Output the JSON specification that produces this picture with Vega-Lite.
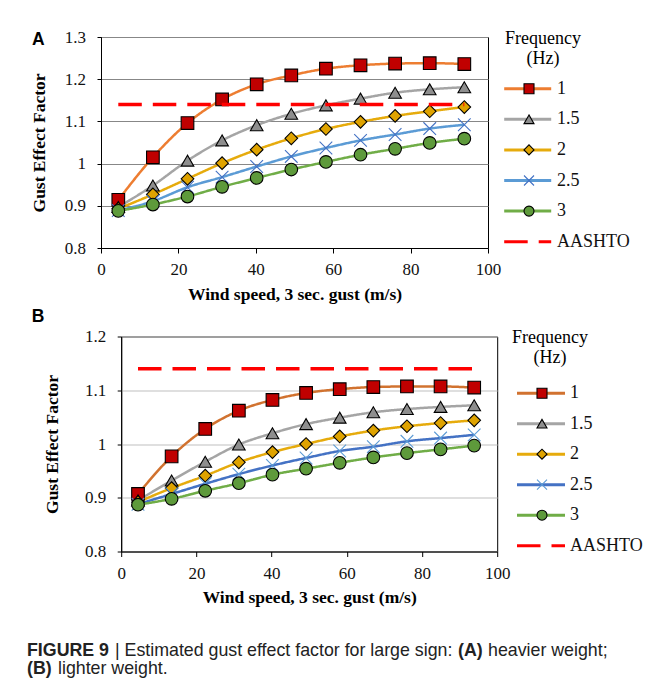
{
  "$schema": "https://vega.github.io/schema/vega-lite/v6.json",
  "background": "white",
  "padding": {"left": 27, "top": 27, "right": 4, "bottom": 4},
  "autosize": {"type": "pad"},
  "config": {
    "font": "Liberation Serif",
    "view": {"stroke": null},
    "axis": {
      "labelFont": "Liberation Serif", "labelFontSize": 17, "labelColor": "#111111",
      "titleFont": "Liberation Serif", "titleFontSize": 17.5, "titleFontWeight": "bold", "titleColor": "#000000",
      "domainColor": "#000000", "tickColor": "#000000", "labelFlush": false, "labelOverlap": false
    },
    "axisX": {"grid": false, "tickSize": 5, "labelPadding": 8.7, "titlePadding": 7.6},
    "axisY": {"tickSize": 4, "labelPadding": 11.5, "gridWidth": 1},
    "legend": {
      "orient": "none", "padding": 0, "direction": "vertical", "clipHeight": 20,
      "labelFont": "Liberation Serif", "labelFontSize": 18, "labelColor": "#111111",
      "titleFont": "Liberation Serif", "titleFontSize": 18, "titleFontWeight": "normal",
      "titleColor": "#000000", "titleLineHeight": 20
    }
  },
  "datasets": {
    "gust": [
      {"panel": "A", "series": "1", "speed": 4.47, "gef": 0.914},
      {"panel": "A", "series": "1", "speed": 13.41, "gef": 1.015},
      {"panel": "A", "series": "1", "speed": 22.35, "gef": 1.096},
      {"panel": "A", "series": "1", "speed": 31.29, "gef": 1.152},
      {"panel": "A", "series": "1", "speed": 40.23, "gef": 1.188},
      {"panel": "A", "series": "1", "speed": 49.17, "gef": 1.209},
      {"panel": "A", "series": "1", "speed": 58.12, "gef": 1.225},
      {"panel": "A", "series": "1", "speed": 67.06, "gef": 1.233},
      {"panel": "A", "series": "1", "speed": 76.0, "gef": 1.237},
      {"panel": "A", "series": "1", "speed": 84.94, "gef": 1.238},
      {"panel": "A", "series": "1", "speed": 93.88, "gef": 1.236},
      {"panel": "A", "series": "1.5", "speed": 4.47, "gef": 0.897},
      {"panel": "A", "series": "1.5", "speed": 13.41, "gef": 0.948},
      {"panel": "A", "series": "1.5", "speed": 22.35, "gef": 1.007},
      {"panel": "A", "series": "1.5", "speed": 31.29, "gef": 1.055},
      {"panel": "A", "series": "1.5", "speed": 40.23, "gef": 1.091},
      {"panel": "A", "series": "1.5", "speed": 49.17, "gef": 1.118},
      {"panel": "A", "series": "1.5", "speed": 58.12, "gef": 1.138},
      {"panel": "A", "series": "1.5", "speed": 67.06, "gef": 1.154},
      {"panel": "A", "series": "1.5", "speed": 76.0, "gef": 1.168},
      {"panel": "A", "series": "1.5", "speed": 84.94, "gef": 1.176},
      {"panel": "A", "series": "1.5", "speed": 93.88, "gef": 1.181},
      {"panel": "A", "series": "2", "speed": 4.47, "gef": 0.893},
      {"panel": "A", "series": "2", "speed": 13.41, "gef": 0.927},
      {"panel": "A", "series": "2", "speed": 22.35, "gef": 0.964},
      {"panel": "A", "series": "2", "speed": 31.29, "gef": 1.001},
      {"panel": "A", "series": "2", "speed": 40.23, "gef": 1.033},
      {"panel": "A", "series": "2", "speed": 49.17, "gef": 1.06},
      {"panel": "A", "series": "2", "speed": 58.12, "gef": 1.082},
      {"panel": "A", "series": "2", "speed": 67.06, "gef": 1.099},
      {"panel": "A", "series": "2", "speed": 76.0, "gef": 1.113},
      {"panel": "A", "series": "2", "speed": 84.94, "gef": 1.124},
      {"panel": "A", "series": "2", "speed": 93.88, "gef": 1.134},
      {"panel": "A", "series": "2.5", "speed": 4.47, "gef": 0.889},
      {"panel": "A", "series": "2.5", "speed": 13.41, "gef": 0.911},
      {"panel": "A", "series": "2.5", "speed": 22.35, "gef": 0.944},
      {"panel": "A", "series": "2.5", "speed": 31.29, "gef": 0.968},
      {"panel": "A", "series": "2.5", "speed": 40.23, "gef": 0.993},
      {"panel": "A", "series": "2.5", "speed": 49.17, "gef": 1.017},
      {"panel": "A", "series": "2.5", "speed": 58.12, "gef": 1.037},
      {"panel": "A", "series": "2.5", "speed": 67.06, "gef": 1.055},
      {"panel": "A", "series": "2.5", "speed": 76.0, "gef": 1.069},
      {"panel": "A", "series": "2.5", "speed": 84.94, "gef": 1.083},
      {"panel": "A", "series": "2.5", "speed": 93.88, "gef": 1.092},
      {"panel": "A", "series": "3", "speed": 4.47, "gef": 0.888},
      {"panel": "A", "series": "3", "speed": 13.41, "gef": 0.903},
      {"panel": "A", "series": "3", "speed": 22.35, "gef": 0.922},
      {"panel": "A", "series": "3", "speed": 31.29, "gef": 0.945},
      {"panel": "A", "series": "3", "speed": 40.23, "gef": 0.966},
      {"panel": "A", "series": "3", "speed": 49.17, "gef": 0.986},
      {"panel": "A", "series": "3", "speed": 58.12, "gef": 1.004},
      {"panel": "A", "series": "3", "speed": 67.06, "gef": 1.021},
      {"panel": "A", "series": "3", "speed": 76.0, "gef": 1.035},
      {"panel": "A", "series": "3", "speed": 84.94, "gef": 1.049},
      {"panel": "A", "series": "3", "speed": 93.88, "gef": 1.059},
      {"panel": "A", "series": "AASHTO", "speed": 4.47, "gef": 1.14},
      {"panel": "A", "series": "AASHTO", "speed": 93.88, "gef": 1.14},
      {"panel": "B", "series": "1", "speed": 4.47, "gef": 0.907},
      {"panel": "B", "series": "1", "speed": 13.41, "gef": 0.977},
      {"panel": "B", "series": "1", "speed": 22.35, "gef": 1.028},
      {"panel": "B", "series": "1", "speed": 31.29, "gef": 1.062},
      {"panel": "B", "series": "1", "speed": 40.23, "gef": 1.082},
      {"panel": "B", "series": "1", "speed": 49.17, "gef": 1.095},
      {"panel": "B", "series": "1", "speed": 58.12, "gef": 1.102},
      {"panel": "B", "series": "1", "speed": 67.06, "gef": 1.106},
      {"panel": "B", "series": "1", "speed": 76.0, "gef": 1.107},
      {"panel": "B", "series": "1", "speed": 84.94, "gef": 1.107},
      {"panel": "B", "series": "1", "speed": 93.88, "gef": 1.105},
      {"panel": "B", "series": "1.5", "speed": 4.47, "gef": 0.895},
      {"panel": "B", "series": "1.5", "speed": 13.41, "gef": 0.932},
      {"panel": "B", "series": "1.5", "speed": 22.35, "gef": 0.967},
      {"panel": "B", "series": "1.5", "speed": 31.29, "gef": 0.999},
      {"panel": "B", "series": "1.5", "speed": 40.23, "gef": 1.02},
      {"panel": "B", "series": "1.5", "speed": 49.17, "gef": 1.037},
      {"panel": "B", "series": "1.5", "speed": 58.12, "gef": 1.049},
      {"panel": "B", "series": "1.5", "speed": 67.06, "gef": 1.059},
      {"panel": "B", "series": "1.5", "speed": 76.0, "gef": 1.065},
      {"panel": "B", "series": "1.5", "speed": 84.94, "gef": 1.069},
      {"panel": "B", "series": "1.5", "speed": 93.88, "gef": 1.072},
      {"panel": "B", "series": "2", "speed": 4.47, "gef": 0.892},
      {"panel": "B", "series": "2", "speed": 13.41, "gef": 0.918},
      {"panel": "B", "series": "2", "speed": 22.35, "gef": 0.941},
      {"panel": "B", "series": "2", "speed": 31.29, "gef": 0.966},
      {"panel": "B", "series": "2", "speed": 40.23, "gef": 0.985},
      {"panel": "B", "series": "2", "speed": 49.17, "gef": 1.0},
      {"panel": "B", "series": "2", "speed": 58.12, "gef": 1.014},
      {"panel": "B", "series": "2", "speed": 67.06, "gef": 1.025},
      {"panel": "B", "series": "2", "speed": 76.0, "gef": 1.033},
      {"panel": "B", "series": "2", "speed": 84.94, "gef": 1.039},
      {"panel": "B", "series": "2", "speed": 93.88, "gef": 1.044},
      {"panel": "B", "series": "2.5", "speed": 4.47, "gef": 0.888},
      {"panel": "B", "series": "2.5", "speed": 13.41, "gef": 0.907},
      {"panel": "B", "series": "2.5", "speed": 22.35, "gef": 0.926},
      {"panel": "B", "series": "2.5", "speed": 31.29, "gef": 0.944},
      {"panel": "B", "series": "2.5", "speed": 40.23, "gef": 0.96},
      {"panel": "B", "series": "2.5", "speed": 49.17, "gef": 0.974},
      {"panel": "B", "series": "2.5", "speed": 58.12, "gef": 0.987},
      {"panel": "B", "series": "2.5", "speed": 67.06, "gef": 0.995},
      {"panel": "B", "series": "2.5", "speed": 76.0, "gef": 1.005},
      {"panel": "B", "series": "2.5", "speed": 84.94, "gef": 1.011},
      {"panel": "B", "series": "2.5", "speed": 93.88, "gef": 1.017},
      {"panel": "B", "series": "3", "speed": 4.47, "gef": 0.887},
      {"panel": "B", "series": "3", "speed": 13.41, "gef": 0.898},
      {"panel": "B", "series": "3", "speed": 22.35, "gef": 0.913},
      {"panel": "B", "series": "3", "speed": 31.29, "gef": 0.927},
      {"panel": "B", "series": "3", "speed": 40.23, "gef": 0.943},
      {"panel": "B", "series": "3", "speed": 49.17, "gef": 0.954},
      {"panel": "B", "series": "3", "speed": 58.12, "gef": 0.965},
      {"panel": "B", "series": "3", "speed": 67.06, "gef": 0.975},
      {"panel": "B", "series": "3", "speed": 76.0, "gef": 0.983},
      {"panel": "B", "series": "3", "speed": 84.94, "gef": 0.99},
      {"panel": "B", "series": "3", "speed": 93.88, "gef": 0.997},
      {"panel": "B", "series": "AASHTO", "speed": 4.47, "gef": 1.14},
      {"panel": "B", "series": "AASHTO", "speed": 93.88, "gef": 1.14}
    ]
  },
  "concat": [
    {
      "concat": [
        {
          "width": 387,
          "height": 211,
          "view": {"stroke": "#000000", "strokeWidth": 1},
          "title": {"text": "A", "anchor": "start", "frame": "group", "dx": -69, "offset": -34.9, "baseline": "alphabetic", "font": "Liberation Sans", "fontSize": 17.5, "fontWeight": "bold", "color": "#000000"},
          "data": {"name": "gust"},
          "transform": [{"filter": "datum.panel === 'A'"}],
          "encoding": {
            "x": {"field": "speed", "type": "quantitative", "scale": {"domain": [0, 100], "nice": false},
                  "axis": {"values": [0, 20, 40, 60, 80, 100], "labelFont": "Liberation Serif", "title": "Wind speed, 3 sec. gust (m/s)"}},
            "y": {"field": "gef", "type": "quantitative", "scale": {"domain": [0.8, 1.3], "nice": false, "zero": false},
                  "axis": {"values": [0.8, 0.9, 1, 1.1, 1.2, 1.3], "format": "~g", "labelFont": "Liberation Serif", "title": "Gust Effect Factor", "titlePadding": 16, "grid": true, "gridColor": "#878787"}}
          },
          "layer": [
            {
              "transform": [{"filter": "datum.series !== 'AASHTO'"}],
              "mark": {"type": "line", "interpolate": "monotone", "strokeWidth": 2.5},
              "encoding": {
                "color": {"field": "series", "type": "nominal",
                  "scale": {"domain": ["1", "1.5", "2", "2.5", "3", "AASHTO"], "range": ["#ED7D31", "#A5A5A5", "#E6AB0C", "#5B9BD5", "#70AD47", "#FF0000"]},
                  "legend": {"legendX": 401.7, "legendY": -7.4, "title": ["Frequency", "(Hz)"], "titleAnchor": "start", "titleAlign": "center", "titlePadding": 11.1, "symbolType": "stroke", "symbolSize": 2209, "symbolStrokeWidth": 3, "rowPadding": 10.6, "labelOffset": 4.3, "encode": {"title": {"update": {"dx": {"value": 40.3}}}}}},
                "strokeDash": {"field": "series", "type": "nominal",
                  "scale": {"domain": ["1", "1.5", "2", "2.5", "3", "AASHTO"], "range": [[1, 0], [1, 0], [1, 0], [1, 0], [1, 0], [23.5, 11]]},
                  "legend": {"legendX": 401.7, "legendY": -7.4, "title": ["Frequency", "(Hz)"], "titleAnchor": "start", "titleAlign": "center", "titlePadding": 11.1, "symbolType": "stroke", "symbolSize": 2209, "symbolStrokeWidth": 3, "rowPadding": 10.6, "labelOffset": 4.3, "encode": {"title": {"update": {"dx": {"value": 40.3}}}}}}
              }
            },
            {
              "transform": [{"filter": "datum.series !== 'AASHTO'"}],
              "mark": {"type": "point", "filled": true, "opacity": 1, "size": 160, "strokeWidth": 1.1},
              "encoding": {
                "shape": {"field": "series", "type": "nominal",
                  "scale": {"domain": ["1", "1.5", "2", "2.5", "3"], "range": ["square", "triangle-up", "diamond", "M-1,-1L1,1M-1,1L1,-1", "circle"]},
                  "legend": {"legendX": 419, "legendY": 41.7, "title": null, "labelExpr": "''", "rowPadding": 10.6, "symbolStrokeWidth": 1.1, "symbolOpacity": 1}},
                "fill": {"field": "series", "type": "nominal",
                  "scale": {"domain": ["1", "1.5", "2", "2.5", "3"], "range": ["#C00000", "#8E8E8E", "#DFA300", "transparent", "#5E9A3B"]},
                  "legend": {"legendX": 419, "legendY": 41.7, "title": null, "labelExpr": "''", "rowPadding": 10.6, "symbolStrokeWidth": 1.1, "symbolOpacity": 1}},
                "stroke": {"field": "series", "type": "nominal",
                  "scale": {"domain": ["1", "1.5", "2", "2.5", "3"], "range": ["#000000", "#000000", "#000000", "#4472C4", "#000000"]},
                  "legend": {"legendX": 419, "legendY": 41.7, "title": null, "labelExpr": "''", "rowPadding": 10.6, "symbolStrokeWidth": 1.1, "symbolOpacity": 1}}
              }
            },
            {
              "transform": [{"filter": "datum.series === 'AASHTO'"}],
              "mark": {"type": "line", "strokeWidth": 3.5},
              "encoding": {
                "color": {"field": "series", "type": "nominal",
                  "scale": {"domain": ["1", "1.5", "2", "2.5", "3", "AASHTO"], "range": ["#ED7D31", "#A5A5A5", "#E6AB0C", "#5B9BD5", "#70AD47", "#FF0000"]}},
                "strokeDash": {"field": "series", "type": "nominal",
                  "scale": {"domain": ["1", "1.5", "2", "2.5", "3", "AASHTO"], "range": [[1, 0], [1, 0], [1, 0], [1, 0], [1, 0], [23.5, 11]]}}
              }
            }
          ]
        },
        {
          "concat": [
            {"width": 1, "height": 1, "data": {"values": []}, "mark": "text", "encoding": {}},
            {
              "width": 376,
              "height": 215,
              "view": {"stroke": "#000000", "strokeWidth": 1},
              "title": {"text": "B", "anchor": "start", "frame": "group", "dx": -89.5, "offset": -11.9, "baseline": "alphabetic", "font": "Liberation Sans", "fontSize": 17.5, "fontWeight": "bold", "color": "#000000"},
              "data": {"name": "gust"},
              "transform": [{"filter": "datum.panel === 'B'"}],
              "encoding": {
                "x": {"field": "speed", "type": "quantitative", "scale": {"domain": [0, 100], "nice": false},
                      "axis": {"values": [0, 20, 40, 60, 80, 100], "labelFont": "Liberation Serif", "title": "Wind speed, 3 sec. gust (m/s)"}},
                "y": {"field": "gef", "type": "quantitative", "scale": {"domain": [0.8, 1.2], "nice": false, "zero": false},
                      "axis": {"values": [0.8, 0.9, 1, 1.1, 1.2], "format": "~g", "labelFont": "Liberation Serif", "title": "Gust Effect Factor", "titlePadding": 23, "grid": true, "gridColor": "#BFBFBF"}}
              },
              "layer": [
                {
                  "transform": [{"filter": "datum.series !== 'AASHTO'"}],
                  "mark": {"type": "line", "interpolate": "monotone", "strokeWidth": 2.5},
                  "encoding": {
                    "color": {"field": "series", "type": "nominal",
                      "scale": {"domain": ["1", "1.5", "2", "2.5", "3", "AASHTO"], "range": ["#D1722F", "#A5A5A5", "#E6AB0C", "#4472C4", "#70AD47", "#FF0000"]},
                      "legend": {"legendX": 391.3, "legendY": -7.1, "title": ["Frequency", "(Hz)"], "titleAnchor": "start", "titleAlign": "center", "titlePadding": 15.8, "symbolType": "stroke", "symbolSize": 2304, "symbolStrokeWidth": 3, "rowPadding": 10.5, "labelOffset": 3.5, "encode": {"title": {"update": {"dx": {"value": 34.5}}}}}},
                    "strokeDash": {"field": "series", "type": "nominal",
                      "scale": {"domain": ["1", "1.5", "2", "2.5", "3", "AASHTO"], "range": [[1, 0], [1, 0], [1, 0], [1, 0], [1, 0], [23.5, 11]]},
                      "legend": {"legendX": 391.3, "legendY": -7.1, "title": ["Frequency", "(Hz)"], "titleAnchor": "start", "titleAlign": "center", "titlePadding": 15.8, "symbolType": "stroke", "symbolSize": 2304, "symbolStrokeWidth": 3, "rowPadding": 10.5, "labelOffset": 3.5, "encode": {"title": {"update": {"dx": {"value": 34.5}}}}}}
                  }
                },
                {
                  "transform": [{"filter": "datum.series !== 'AASHTO'"}],
                  "mark": {"type": "point", "filled": true, "opacity": 1, "size": 160, "strokeWidth": 1.1},
                  "encoding": {
                    "shape": {"field": "series", "type": "nominal",
                      "scale": {"domain": ["1", "1.5", "2", "2.5", "3"], "range": ["square", "triangle-up", "diamond", "M-1,-1L1,1M-1,1L1,-1", "circle"]},
                      "legend": {"legendX": 411.8, "legendY": 46.7, "title": null, "labelExpr": "''", "rowPadding": 10.5, "symbolStrokeWidth": 1.1, "symbolOpacity": 1}},
                    "fill": {"field": "series", "type": "nominal",
                      "scale": {"domain": ["1", "1.5", "2", "2.5", "3"], "range": ["#C00000", "#8E8E8E", "#DFA300", "transparent", "#5E9A3B"]},
                      "legend": {"legendX": 411.8, "legendY": 46.7, "title": null, "labelExpr": "''", "rowPadding": 10.5, "symbolStrokeWidth": 1.1, "symbolOpacity": 1}},
                    "stroke": {"field": "series", "type": "nominal",
                      "scale": {"domain": ["1", "1.5", "2", "2.5", "3"], "range": ["#000000", "#000000", "#000000", "#5B9BD5", "#000000"]},
                      "legend": {"legendX": 411.8, "legendY": 46.7, "title": null, "labelExpr": "''", "rowPadding": 10.5, "symbolStrokeWidth": 1.1, "symbolOpacity": 1}}
                  }
                },
                {
                  "transform": [{"filter": "datum.series === 'AASHTO'"}],
                  "mark": {"type": "line", "strokeWidth": 3.5},
                  "encoding": {
                    "color": {"field": "series", "type": "nominal",
                      "scale": {"domain": ["1", "1.5", "2", "2.5", "3", "AASHTO"], "range": ["#D1722F", "#A5A5A5", "#E6AB0C", "#4472C4", "#70AD47", "#FF0000"]}},
                    "strokeDash": {"field": "series", "type": "nominal",
                      "scale": {"domain": ["1", "1.5", "2", "2.5", "3", "AASHTO"], "range": [[1, 0], [1, 0], [1, 0], [1, 0], [1, 0], [23.5, 11]]}}
                  }
                }
              ]
            }
          ],
          "align": "none",
          "spacing": -70.8,
          "resolve": {
            "scale": {"color": "independent", "strokeDash": "independent", "shape": "independent", "fill": "independent", "stroke": "independent"},
            "legend": {"color": "independent", "strokeDash": "independent", "shape": "independent", "fill": "independent", "stroke": "independent"}
          }
        }
      ],
      "columns": 1,
      "align": "none",
      "spacing": 2.5,
      "resolve": {
        "scale": {"color": "independent", "strokeDash": "independent", "shape": "independent", "fill": "independent", "stroke": "independent"},
        "legend": {"color": "independent", "strokeDash": "independent", "shape": "independent", "fill": "independent", "stroke": "independent"}
      }
    },
    {
      "concat": [
        {
          "concat": [
            {"width": 1, "height": 1, "data": {"values": []}, "mark": "text", "encoding": {},
             "title": {"text": "FIGURE 9", "anchor": "start", "frame": "group", "dx": -74, "offset": 0, "baseline": "alphabetic", "font": "Liberation Sans", "fontSize": 17.8, "fontWeight": "bold", "color": "#222222"}},
            {"width": 1, "height": 1, "data": {"values": []}, "mark": "text", "encoding": {},
             "title": {"text": "| Estimated gust effect factor for large sign:", "anchor": "start", "frame": "group", "offset": 0, "baseline": "alphabetic", "font": "Liberation Sans", "fontSize": 17.8, "fontWeight": "normal", "color": "#222222"}},
            {"width": 1, "height": 1, "data": {"values": []}, "mark": "text", "encoding": {},
             "title": {"text": "(A)", "anchor": "start", "frame": "group", "offset": 0, "baseline": "alphabetic", "font": "Liberation Sans", "fontSize": 17.8, "fontWeight": "bold", "color": "#222222"}},
            {"width": 1, "height": 1, "data": {"values": []}, "mark": "text", "encoding": {},
             "title": {"text": "heavier weight;", "anchor": "start", "frame": "group", "offset": 0, "baseline": "alphabetic", "font": "Liberation Sans", "fontSize": 17.8, "fontWeight": "normal", "color": "#222222"}}
          ],
          "align": "none",
          "spacing": 5
        },
        {
          "concat": [
            {"width": 1, "height": 1, "data": {"values": []}, "mark": "text", "encoding": {},
             "title": {"text": "(B)", "anchor": "start", "frame": "group", "dx": -74, "offset": 0, "baseline": "alphabetic", "font": "Liberation Sans", "fontSize": 17.8, "fontWeight": "bold", "color": "#222222"}},
            {"width": 1, "height": 1, "data": {"values": []}, "mark": "text", "encoding": {},
             "title": {"text": "lighter weight.", "anchor": "start", "frame": "group", "offset": 0, "baseline": "alphabetic", "font": "Liberation Sans", "fontSize": 17.8, "fontWeight": "normal", "color": "#222222"}}
          ],
          "align": "none",
          "spacing": -44
        }
      ],
      "columns": 1,
      "align": "none",
      "spacing": -15.2
    }
  ],
  "columns": 1,
  "align": "none",
  "spacing": 35
}
